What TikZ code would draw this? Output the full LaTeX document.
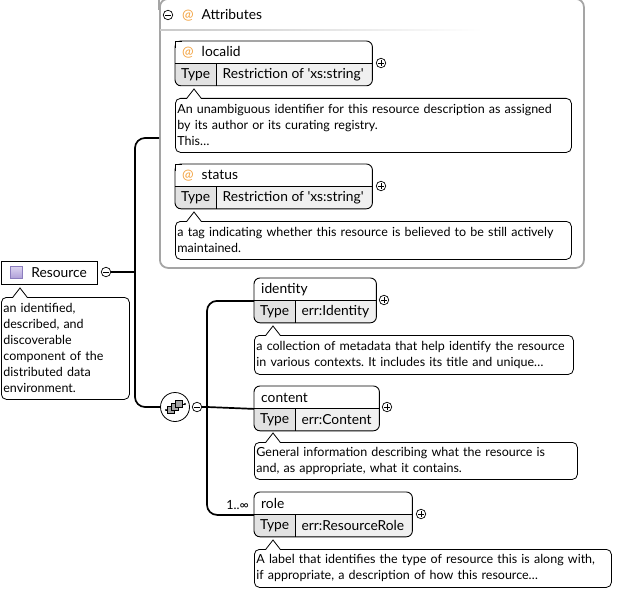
\documentclass[tikz,border=0pt]{standalone}
\usepackage{fontspec}
\setmainfont{Lato}
\frenchspacing
\usetikzlibrary{positioning, calc, backgrounds}

\definecolor{framegray}{RGB}{165,165,165}
\definecolor{typegray}{RGB}{226,226,226}
\definecolor{valgray}{RGB}{240,240,240}
\definecolor{atorange}{RGB}{242,160,60}
\definecolor{iconedge}{RGB}{140,125,190}
\definecolor{iconlight}{RGB}{222,214,242}
\definecolor{icondark}{RGB}{176,160,216}

\begin{document}
\begin{tikzpicture}[
  x=1pt, y=-1pt,
  every node/.style={font=\fontsize{13.8}{16}\selectfont},
  conn/.style={line width=1.7},
  namerow/.style={anchor=north west, minimum height=22.5, inner xsep=7, inner ysep=0, align=left},
  typecell/.style={anchor=north west, minimum width=41, minimum height=21.5, inner sep=0},
  valcell/.style={anchor=west, inner xsep=6, inner ysep=0},
  desc/.style={draw, line width=0.8, rounded corners=5, fill=white, anchor=north west, align=left,
    inner xsep=2, inner ysep=2, font=\fontsize{12.5}{16}\selectfont},
  expander/.style={circle, draw, fill=white, line width=0.7, minimum size=9.5, inner sep=0,
    path picture={\draw[line width=0.7] ([xshift=-2.6]path picture bounding box.center) -- ([xshift=2.6]path picture bounding box.center)
      ([yshift=-2.6]path picture bounding box.center) -- ([yshift=2.6]path picture bounding box.center);}},
  collapser/.style={circle, draw, fill=white, line width=0.7, minimum size=9.5, inner sep=0,
    path picture={\draw[line width=0.7] ([xshift=-2.6]path picture bounding box.center) -- ([xshift=2.6]path picture bounding box.center);}}
]
\useasboundingbox (0,0) rectangle (618,591);

% Attributes group
\node[draw=framegray, line width=1.8, rounded corners=8, anchor=north west, minimum width=424, minimum height=269] (attrs) at (159,-2) {};
\draw[framegray, line width=1.8] (attrs.north west) -- ++(0,12);
\node[collapser] (attrs-m) at (168,15) {};
\node[anchor=west, inner xsep=0] (attrs-h) at (182,15) {\textcolor{atorange}{@}\hspace{8pt}Attributes};
\shade[left color=framegray!60, right color=white] (160,29.3) rectangle (482,30.7);
\coordinate (attrs-in) at (159,138);

% Attribute: localid
\node[namerow, text width=183] (localid) at (175,41) {\textcolor{atorange}{@}\hspace{8pt}localid};
\node[typecell] (localid-t) at (localid.south west) {Type};
\node[valcell] (localid-v) at (localid-t.east) {Restriction of \textquotesingle xs:string\textquotesingle};
\node[expander] (localid-x) at (381,63) {};
\node[desc, text width=392, minimum height=54] (localid-d) at (175,98)
  {An unambiguous identifier for this resource description as assigned\\by its author or its curating registry.\\This…};

% Attribute: status
\node[namerow, text width=183] (status) at (175,164) {\textcolor{atorange}{@}\hspace{8pt}status};
\node[typecell] (status-t) at (status.south west) {Type};
\node[valcell] (status-v) at (status-t.east) {Restriction of \textquotesingle xs:string\textquotesingle};
\node[expander] (status-x) at (381,186) {};
\node[desc, text width=392, minimum height=38] (status-d) at (175,221)
  {a tag indicating whether this resource is believed to be still actively\\maintained.};

% Root element: Resource
\node[draw, line width=0.8, anchor=north west, minimum height=22.5, text width=86, inner xsep=5, inner ysep=0, align=left] (resource) at (1,261)
  {\hspace*{25pt}Resource};
\node[draw=iconedge, top color=iconlight, bottom color=icondark, minimum size=12, inner sep=0] (resource-i) at (16,272) {};
\node[collapser] (resource-m) at (106,272) {};
\node[desc, text width=124, minimum height=102] (resource-d) at (1,297)
  {an identified,\\described, and\\discoverable\\component of the\\distributed data\\environment.};
\coordinate (trunk) at (135,272);

% Sequence compositor
\node[circle, draw, fill=white, line width=0.8, minimum size=29] (seq) at (175,407) {};
\draw[line width=0.7] ($(seq.center)+(-9,3)$) -- ++(6,0) ($(seq.center)+(4,-3)$) -- ++(6,0);
\foreach \i in {-1,0,1}
  \filldraw[fill=gray!70, line width=0.6] ($(seq.center)+(4*\i-3.5,-3*\i-3.5)$) rectangle ++(7,7);
\fill ($(seq.center)+(-9,3)$) circle (1.1pt) ($(seq.center)+(10,-3)$) circle (1.1pt);
\node[collapser] (seq-m) at (197,407) {};
\coordinate (seqtrunk) at (207,407);

% Element: identity
\node[namerow, text width=108] (identity) at (254,278) {identity};
\node[typecell] (identity-t) at (identity.south west) {Type};
\node[valcell] (identity-v) at (identity-t.east) {err:Identity};
\node[expander] (identity-x) at (384,300) {};
\node[desc, text width=315, minimum height=39] (identity-d) at (254,335)
  {a collection of metadata that help identify the resource\\in various contexts. It includes its title and unique…};

% Element: content
\node[namerow, text width=111] (content) at (254,386) {content};
\node[typecell] (content-t) at (content.south west) {Type};
\node[valcell] (content-v) at (content-t.east) {err:Content};
\node[expander] (content-x) at (387,407) {};
\node[desc, text width=319, minimum height=37] (content-d) at (254,442)
  {General information describing what the resource is\\and, as appropriate, what it contains.};

% Element: role
\node[namerow, text width=144] (role) at (254,492) {role};
\node[typecell] (role-t) at (role.south west) {Type};
\node[valcell] (role-v) at (role-t.east) {err:ResourceRole};
\node[expander] (role-x) at (421,514) {};
\node[anchor=east, inner sep=0, font=\fontsize{12.6}{14}\selectfont] (role-card) at (249,505) {1..∞};
\node[desc, text width=353, minimum height=38] (role-d) at (254,549)
  {A label that identifies the type of resource this is along with,\\if appropriate, a description of how this resource…};

% Cell fills
\begin{scope}[on background layer]
  \foreach \e in {localid, status, identity, content, role} {
    \begin{scope}
      \clip[rounded corners=6] (\e.north west) rectangle (\e.east |- \e-t.south);
      \fill[typegray] (\e-t.north west) rectangle (\e-t.south east);
      \fill[valgray] (\e-t.north east) rectangle (\e.east |- \e-t.south);
    \end{scope}
  }
\end{scope}

% Box outlines
\foreach \e in {localid, status, identity, content, role} {
  \draw[line width=0.9, rounded corners=6] (\e.north west) rectangle (\e.east |- \e-t.south);
  \draw[line width=0.9] (\e.south west) -- (\e.south east) (\e-t.north east) -- (\e-t.south east);
}
% attributes keep a square top-left corner
\foreach \e in {localid, status} {
  \fill[white] ($(\e.north west)+(0.5,0.5)$) rectangle ++(6,6);
  \draw[line width=0.9] ($(\e.north west)+(0,7)$) |- ($(\e.north west)+(7,0)$);
}

% Callout pointers
\foreach \d in {localid-d, status-d, resource-d, identity-d, content-d, role-d} {
  \fill[white] ($(\d.north west)+(12,0.9)$) -- ++(7,-9.9) -- ++(7,9.9) -- cycle;
  \draw[line width=0.8] ($(\d.north west)+(12,0)$) -- ++(7,-9) -- ++(7,9);
}

% Connectors
\draw[conn] (resource-m) -- (trunk);
\draw[conn, rounded corners=10] (attrs-in) -| (trunk) |- (seq);
\draw[conn] (seq-m) -- (seqtrunk) -- (content.south west);
\draw[conn, rounded corners=10] (identity.south west) -| (seqtrunk) |- (role.south west);

\end{tikzpicture}
\end{document}
